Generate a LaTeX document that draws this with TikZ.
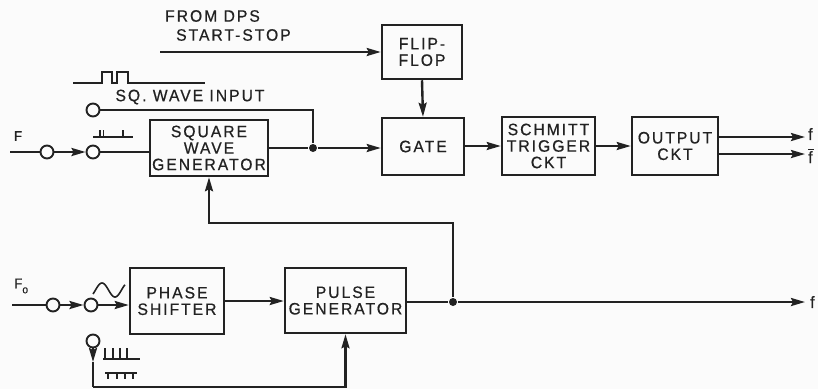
\documentclass[tikz,border=0pt]{standalone}
\usepackage{fontspec}
\setmainfont{Liberation Sans}[LetterSpace=12, FakeStretch=0.95, FakeBold=0.6]
\usetikzlibrary{arrows.meta}
\definecolor{ink}{HTML}{222222}
\definecolor{paper}{HTML}{FBFBFB}
\tikzset{
  blk/.style={draw=ink, line width=2.5pt, inner sep=0pt, align=center, text=ink, font=\fontsize{16.5}{16.5}\selectfont},
  term/.style={circle, draw=ink, line width=1.9pt, minimum size=13pt, inner sep=0pt, fill=paper},
  jdot/.style={circle, fill=ink, minimum size=8pt, inner sep=0pt},
  arr/.style={-{Stealth[length=14pt,width=8pt,inset=2pt]}},
  lbl/.style={font=\fontsize{16.5}{17}\selectfont, inner sep=0pt, text=ink},
  wave/.style={line width=1.6pt, draw=ink},
}
\begin{document}
\begin{tikzpicture}[x=1pt,y=-1pt, line width=2.4pt, draw=ink]
\fill[paper] (0,0) rectangle (818,389);
\useasboundingbox (0,0) rectangle (818,389);

% blocks
\node[blk, minimum width=80pt, minimum height=54pt] (ff) at (422,52) {FLIP-\\FLOP};
\node[blk, minimum width=82pt, minimum height=57pt] (gate) at (423,146.5) {GATE};
\node[blk, minimum width=93pt, minimum height=58pt] (sch) at (548.5,146) {SCHMITT\\TRIGGER\\CKT};
\node[blk, minimum width=86pt, minimum height=58pt] (out) at (675,146) {OUTPUT\\CKT};
\node[blk, minimum width=118pt, minimum height=56pt] (swg) at (209,148) {SQUARE\\WAVE\\GENERATOR};
\node[blk, minimum width=94pt, minimum height=66pt] (ps) at (177,301) {PHASE\\SHIFTER};
\node[blk, minimum width=121pt, minimum height=65pt] (pg) at (345.5,300.5) {PULSE\\GENERATOR};

% terminals
\node[term] (c1) at (47,152) {};
\node[term] (c2) at (93,152) {};
\node[term] (c3) at (93,110) {};
\node[term] (c4) at (53,305) {};
\node[term] (c5) at (91,305) {};
\node[term] (c6) at (93,341) {};

% junctions
\node[jdot] (j1) at (313,148) {};
\node[jdot] (j2) at (453,302) {};

% free ends / bends
\coordinate (dps) at (160,52);
\coordinate (fin) at (10,152);
\coordinate (foin) at (12,305);
\coordinate (fo) at (805,302);
\coordinate (o1) at (805,137);
\coordinate (o2) at (805,154);
\coordinate (fb) at (453,223);
\coordinate (bl) at (93,387);
\coordinate (sq) at (313,110);
\coordinate (c6m) at (93,362);

% connectors
\draw[arr] (dps) -- (ff.west);
\draw[arr] (ff.south) -- (gate.north);
\draw (swg.east) -- (j1);
\draw[arr] (j1) -- (j1 -| gate.west);
\draw (c3) -- (sq) -- (j1);
\draw (fin) -- (c1);
\draw[arr] (c1) -- (c2);
\draw (c2) -- (c2 -| swg.west);
\draw[arr] (gate.east |- sch.west) -- (sch.west);
\draw[arr] (sch.east) -- (sch.east -| out.west);
\draw[arr] (out.east |- o1) -- (o1);
\draw[arr] (out.east |- o2) -- (o2);
\draw (pg.east |- j2) -- (j2);
\draw[arr] (j2) -- (fo);
\draw[arr] (j2) -- (fb) -| (swg.south);
\draw (foin) -- (c4);
\draw[arr] (c4) -- (c5);
\draw[arr] (c5) -- (c5 -| ps.west);
\draw[arr] (ps.east) -- (ps.east -| pg.west);
\draw (c6m) -- (bl);
\draw[arr] (c6) -- (c6m);
\draw[arr] (bl) -| (pg.south);

% labels
\node[lbl, anchor=west] (t1) at (164,16) {FROM DPS};
\node[lbl, anchor=west] (t2) at (175,35) {START-STOP};
\node[lbl] (t3) at (190,97) {SQ. WAVE INPUT};
\node[lbl, font=\fontsize{14}{14}\selectfont] (tF) at (18,136) {F};
\node[lbl, anchor=west, font=\fontsize{14}{14}\selectfont] (tFo) at (13,286) {F\raisebox{-5pt}{\fontsize{11}{11}\selectfont o}};
\node[lbl, anchor=west] (tf1) at (807,134) {f};
\node[lbl, anchor=west] (tf2) at (807,156) {\rlap{\rule[13pt]{6pt}{1.2pt}}f};
\node[lbl, anchor=west] (tf3) at (809,302) {f};

% waveform sketches
\draw[wave] (73,83) -- (102,83) -- (102,72) -- (112,72) -- (112,83) -- (117,83) -- (117,72) -- (128,72) -- (128,83) -- (205,83);
\draw[wave] (93,137) -- (133,137) (100,137) -- (100,130) (103.5,137) -- (103.5,130) (123,137) -- (123,130);
\draw[wave] plot[domain=93:125, samples=50, smooth] (\x, {290-7*sin(360*(\x-95.5)/26)});
\draw[wave] (103,359) -- (140,359) (105,359) -- (105,348) (113,359) -- (113,348) (120,359) -- (120,348) (127,359) -- (127,348);
\draw[wave] (105,373) -- (137,373) (108,373) -- (108,379) (117,373) -- (117,379) (125,373) -- (125,379) (133,373) -- (133,379);
\end{tikzpicture}
\end{document}
